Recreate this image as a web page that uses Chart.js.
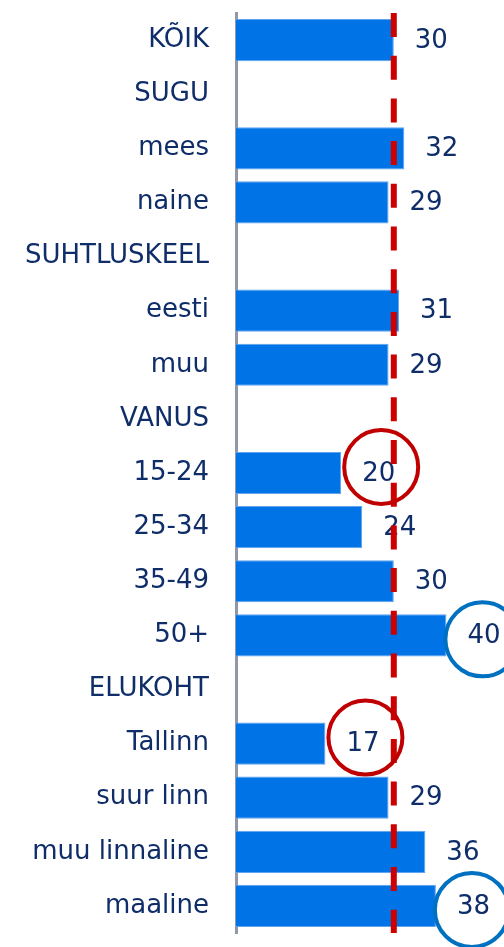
<!DOCTYPE html>
<html>
<head>
<meta charset="utf-8">
<script src="https://cdn.jsdelivr.net/npm/chart.js@4.4.1/dist/chart.umd.min.js"></script>
<style>
  html, body { margin: 0; padding: 0; background: #fff; }
  #wrap { width: 504px; height: 947px; position: relative; }
</style>
</head>
<body>
<div id="wrap"><canvas id="shareChart"></canvas></div>
<script>
// Group rows; section headers carry no value
const categories = ['KÕIK', 'SUGU', 'mees', 'naine', 'SUHTLUSKEEL', 'eesti', 'muu', 'VANUS',
    '15-24', '25-34', '35-49', '50+', 'ELUKOHT', 'Tallinn', 'suur linn', 'muu linnaline', 'maaline'];
const shares = [30, null, 32, 29, null, 31, 29, null, 20, 24, 30, 40, null, 17, 29, 36, 38];
// 'low' = red ring, 'high' = blue ring
const highlights = [null, null, null, null, null, null, null, null,
    'low', null, null, 'high', null, 'low', null, null, 'high'];
const averageShare = 30;

const textColor = '#0f2d69';
const labelFont = '26px "DejaVu Sans", Verdana, sans-serif';

// value labels, average line and rings drawn after the bars
const overlayPlugin = {
    id: 'overlay',
    afterDatasetsDraw(chart) {
        const ctx = chart.ctx;
        const meta = chart.getDatasetMeta(0);
        const area = chart.chartArea;

        ctx.save();
        ctx.font = labelFont;
        ctx.fillStyle = textColor;
        ctx.textAlign = 'left';
        ctx.textBaseline = 'middle';
        meta.data.forEach(function(bar, i) {
            if (shares[i] === null) return;
            ctx.fillText(String(shares[i]), bar.x + 21, bar.y + 1);
        });

        // average line
        const x = chart.scales.x.getPixelForValue(averageShare);
        ctx.strokeStyle = '#cc0000';
        ctx.lineWidth = 6;
        ctx.setLineDash([24, 18.7]);
        ctx.beginPath();
        ctx.moveTo(x, area.top);
        ctx.lineTo(x, area.bottom);
        ctx.stroke();
        ctx.setLineDash([]);

        // rings around notable values
        ctx.lineWidth = 4;
        meta.data.forEach(function(bar, i) {
            const kind = highlights[i];
            if (!kind) return;
            const cx = bar.x + 38;
            const cy = kind === 'low' ? bar.y - 6 : bar.y + 4;
            ctx.strokeStyle = kind === 'low' ? '#c00000' : '#0070c0';
            ctx.beginPath();
            ctx.arc(kind === 'low' ? cx + 2 : cx - 2, cy, 37, 0, Math.PI * 2);
            ctx.stroke();
        });
        ctx.restore();
    }
};

new Chart(document.getElementById('shareChart'), {
    type: 'bar',
    data: {
        labels: categories,
        datasets: [{
            data: shares,
            backgroundColor: '#0073e6',
            borderColor: '#5ea4ee',
            borderWidth: 1,
            barPercentage: 0.78,
            categoryPercentage: 1
        }]
    },
    options: {
        indexAxis: 'y',
        responsive: true,
        maintainAspectRatio: false,
        animation: false,
        layout: { padding: { top: 13, bottom: 14, left: 0, right: 5 } },
        plugins: {
            legend: { display: false },
            tooltip: { enabled: false }
        },
        scales: {
            x: {
                display: false,
                min: 0,
                max: 50
            },
            y: {
                afterFit(scale) {
                    scale.width = 236;
                    scale.paddingTop = 0;
                    scale.paddingBottom = 0;
                },
                grid: { display: false, drawTicks: false },
                border: { display: true, color: '#8f97a8', width: 3 },
                ticks: {
                    color: textColor,
                    padding: 27,
                    font: { family: '"DejaVu Sans", Verdana, sans-serif', size: 26 }
                }
            }
        }
    },
    plugins: [overlayPlugin]
});
</script>
</body>
</html>
